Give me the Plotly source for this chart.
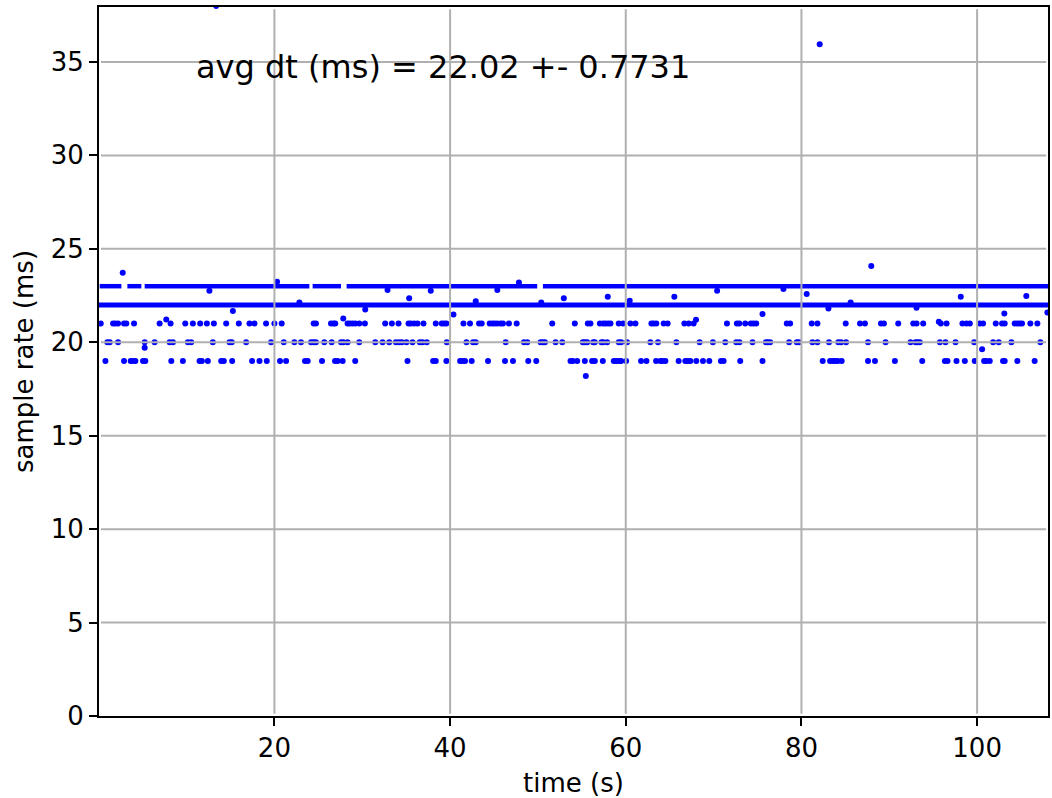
import plotly.graph_objects as go

# ---------------- data ----------------
# dense levels drawn as runs of consecutive samples (start_s, end_s)
runs_22 = [(0.03, 108.1)]
runs_23 = [(0.11, 2.58), (3.26, 4.85), (5.23, 23.98), (24.35, 27.58),
           (28.22, 49.92), (50.57, 108.3)]

# sparse levels: times (s) of samples with dt = 21, 20, 19 ms
t_21 = [0.23, 1.63, 1.89, 2.20, 2.88, 3.14, 4.02, 6.93, 8.18, 9.85, 10.72, 11.55,
        12.31, 13.11, 14.51, 15.95, 17.16, 17.73, 19.05, 20.00, 20.83, 24.47, 24.73,
        26.44, 26.74, 26.93, 28.33, 28.60, 28.90, 29.20, 29.66, 30.30, 32.61, 33.37,
        34.13, 35.27, 35.53, 35.91, 36.29, 36.97, 38.37, 39.05, 39.32, 39.58, 41.52,
        42.27, 43.30, 43.60, 44.51, 44.81, 45.08, 45.38, 45.76, 46.02, 46.70, 47.58,
        51.63, 54.20, 55.68, 55.98, 57.05, 57.42, 57.69, 57.99, 58.26, 59.20, 59.70,
        60.53, 61.10, 62.92, 63.18, 63.48, 64.32, 64.77, 66.67, 67.16, 67.73, 71.52,
        72.65, 72.92, 73.60, 74.24, 74.55, 74.85, 78.33, 78.71, 81.17, 81.82, 85.04,
        86.67, 87.23, 89.05, 89.39, 91.02, 92.73, 93.11, 93.86, 95.87, 96.52, 98.33,
        98.79, 99.17, 100.30, 100.68, 102.12, 102.84, 103.14, 104.28, 104.58, 104.85,
        105.11, 106.06, 106.86]
t_20 = [0.98, 1.25, 2.20, 5.23, 6.36, 8.07, 8.45, 10.15, 10.53, 12.99, 14.89, 15.15,
        16.78, 19.62, 21.06, 22.27, 23.03, 24.17, 24.47, 24.73, 25.68, 26.52, 27.58,
        27.84, 28.33, 29.66, 31.48, 32.31, 33.07, 33.83, 34.20, 34.51, 35.04, 35.72,
        36.55, 36.86, 37.35, 39.62, 41.86, 42.61, 42.92, 46.33, 48.41, 48.79, 50.30,
        50.57, 50.80, 52.01, 52.77, 55.11, 55.34, 55.61, 56.29, 56.48, 57.23, 57.42,
        57.88, 59.20, 59.47, 60.15, 62.80, 63.67, 65.76, 68.41, 69.92, 71.33, 72.58,
        72.95, 74.43, 75.95, 76.17, 76.44, 78.60, 79.47, 79.73, 81.25, 81.82, 83.14,
        84.20, 84.51, 85.08, 87.58, 89.58, 92.42, 92.99, 93.22, 93.48, 95.76, 96.40,
        97.54, 99.66, 101.82, 102.46, 103.90, 107.20]
t_19 = [0.76, 2.88, 3.64, 3.90, 4.17, 5.04, 5.30, 8.26, 9.58, 11.48, 11.74, 12.42,
        13.94, 14.24, 15.19, 17.46, 18.30, 19.13, 20.64, 21.33, 23.48, 23.79, 25.42,
        26.90, 27.20, 27.77, 29.20, 35.15, 38.07, 38.37, 39.58, 41.14, 41.40, 41.70,
        42.46, 44.32, 46.25, 47.16, 48.90, 49.81, 53.71, 53.98, 54.47, 55.34, 56.17,
        56.48, 57.39, 58.64, 58.90, 59.20, 59.47, 60.04, 61.74, 62.35, 63.45, 63.94,
        64.20, 64.51, 66.02, 66.78, 67.05, 67.35, 68.03, 68.79, 69.51, 70.83, 71.14,
        73.03, 75.57, 82.42, 83.26, 83.56, 83.83, 84.13, 84.58, 87.58, 88.37, 90.64,
        93.75, 96.33, 96.63, 97.65, 98.60, 99.73, 100.80, 101.06, 101.44, 102.95,
        103.14, 104.58, 106.55]

# off-level samples (time s, dt ms)
odd_t = [2.73, 12.60, 15.27, 20.30, 22.84, 7.69, 5.23, 27.84, 30.34, 32.88, 35.34,
         37.80, 40.38, 42.92, 45.38, 47.84, 50.38, 52.95, 55.45, 57.95, 60.45, 65.53,
         68.00, 70.40, 75.57, 77.95, 80.60, 82.08, 83.07, 85.60, 87.95, 93.10, 95.64,
         98.14, 100.57, 103.10, 105.60, 108.00, 13.37]
odd_v = [23.72, 22.76, 21.67, 23.24, 22.13, 21.22, 19.70, 21.27, 21.75, 22.79, 22.35,
         22.76, 21.48, 22.20, 22.79, 23.20, 22.13, 22.35, 18.19, 22.44, 22.22, 22.44,
         21.20, 22.76, 21.51, 22.85, 22.58, 35.95, 21.81, 22.13, 24.08, 21.85, 21.10,
         22.44, 19.62, 21.54, 22.47, 21.59, 38.00]

level_values = [21, 20, 19]
x_ticks = [20, 40, 60, 80, 100]
y_ticks = [0, 5, 10, 15, 20, 25, 30, 35]
x_range = [0.03, 108.07]
y_range = [0, 37.94]
avg_text = "avg dt (ms) = 22.02 +- 0.7731"
# -----------------------------------------------------------------

BLUE = "#0000ff"
FONT = "DejaVu Sans"


def runs_to_xy(runs, level):
    xs, ys = [], []
    for s, e in runs:
        xs += [s, e, None]
        ys += [level, level, None]
    return xs, ys


fig = go.Figure()

x22, y22 = runs_to_xy(runs_22, 22)
fig.add_trace(go.Scatter(x=x22, y=y22, mode="lines",
                         line=dict(color=BLUE, width=5), showlegend=False))
x23, y23 = runs_to_xy(runs_23, 23)
fig.add_trace(go.Scatter(x=x23, y=y23, mode="lines",
                         line=dict(color=BLUE, width=4.5), showlegend=False))

sx, sy = [], []
for lvl, ts in zip(level_values, [t_21, t_20, t_19]):
    sx += ts
    sy += [lvl] * len(ts)
sx += odd_t
sy += odd_v
fig.add_trace(go.Scatter(x=sx, y=sy, mode="markers",
                         marker=dict(color=BLUE, size=6, line=dict(width=0)),
                         showlegend=False))

# grid lines drawn above the markers (as in the reference)
shapes = []
for xv in x_ticks:
    shapes.append(dict(type="line", xref="x", yref="paper", x0=xv, x1=xv,
                       y0=0.003, y1=0.997, layer="above",
                       line=dict(color="#b0b0b0", width=2)))
for yv in y_ticks[1:]:
    shapes.append(dict(type="line", xref="paper", yref="y", x0=0.002, x1=0.998,
                       y0=yv, y1=yv, layer="above",
                       line=dict(color="#b0b0b0", width=2)))

fig.update_layout(
    width=1052, height=798,
    margin=dict(l=99, r=2, t=7, b=82),
    paper_bgcolor="white", plot_bgcolor="white",
    font=dict(family=FONT, size=26, color="black"),
    shapes=shapes,
    annotations=[dict(text=avg_text, xref="paper", yref="paper", x=0.1, y=0.915,
                      xanchor="left", yanchor="middle", showarrow=False,
                      font=dict(family=FONT, size=32, color="black"))],
)
fig.update_xaxes(range=x_range, tickvals=x_ticks, showgrid=False, zeroline=False,
                 showline=True, linecolor="black", linewidth=2, mirror=True,
                 ticks="outside", ticklen=8, tickwidth=2, tickcolor="black",
                 tickfont=dict(family=FONT, size=26),
                 title=dict(text="time (s)", font=dict(family=FONT, size=26), standoff=13))
fig.update_yaxes(range=y_range, tickvals=y_ticks, showgrid=False, zeroline=False,
                 showline=True, linecolor="black", linewidth=2, mirror=True,
                 ticks="outside", ticklen=8, tickwidth=2, tickcolor="black",
                 tickfont=dict(family=FONT, size=26),
                 title=dict(text="sample rate (ms)", font=dict(family=FONT, size=26), standoff=10))

fig.write_html("out.html", config={"displayModeBar": False},
               post_script="document.body.style.margin='0';document.body.style.padding='0';")
